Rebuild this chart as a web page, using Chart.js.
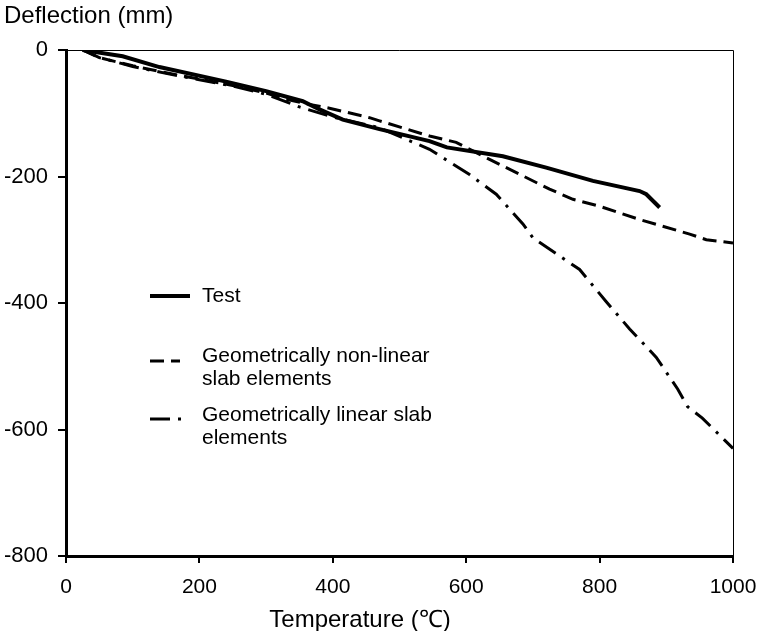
<!DOCTYPE html>
<html>
<head>
<meta charset="utf-8">
<script src="https://cdn.jsdelivr.net/npm/chart.js@4.4.0/dist/chart.umd.min.js"></script>
<style>
  html, body { margin: 0; padding: 0; background: #fff; }
  #wrap { width: 757px; height: 631px; }
</style>
</head>
<body>
<div id="wrap"><canvas id="chart" width="757" height="631"></canvas></div>
<script>
// Temperature (°C) / deflection (mm)
const testT = [25, 85, 140, 240, 300, 355, 380, 415, 470, 545, 571, 655, 720, 790, 860, 870, 890];
const testD = [0, -10, -27, -50, -65, -81, -94, -110, -125, -144, -154, -168, -186, -207, -223, -228, -249];

const nonlinT = [25, 50, 100, 150, 200, 250, 300, 330, 360, 395, 455, 470, 545, 585, 635, 685, 725, 760, 800, 860, 935, 960, 1000];
const nonlinD = [0, -12, -25, -36, -46, -56, -68, -78, -85, -92, -107, -112, -136, -146, -173, -199, -220, -236, -247, -268, -291, -300, -305];

const linT = [25, 50, 100, 150, 200, 250, 300, 350, 400, 470, 545, 605, 645, 685, 700, 770, 810, 845, 885, 917, 932, 954, 1000];
const linD = [0, -12, -26, -37, -47, -57, -70, -90, -106, -123, -157, -197, -228, -275, -297, -347, -398, -441, -486, -536, -564, -582, -630];

const seriesNames = ['Test', 'Geometrically non-linear slab elements', 'Geometrically linear slab elements'];
const legendLines = [['Test'], ['Geometrically non-linear', 'slab elements'], ['Geometrically linear slab', 'elements']];

const xTicks = [0, 200, 400, 600, 800, 1000];
const yTicks = [0, -200, -400, -600, -800];

const FONT = '"Liberation Sans", Arial, sans-serif';

function toPoints(xs, ys) {
  return xs.map((x, i) => ({ x: x, y: ys[i] }));
}

// titles, top/right frame and the in-plot legend
const extras = {
  id: 'extras',
  afterDraw(chart) {
    const ctx = chart.ctx;
    const a = chart.chartArea;
    ctx.save();

    ctx.strokeStyle = '#000';
    ctx.lineWidth = 1;
    ctx.beginPath();
    ctx.moveTo(a.left, a.top + 0.5);
    ctx.lineTo(a.right + 0.5, a.top + 0.5);
    ctx.lineTo(a.right + 0.5, a.bottom);
    ctx.stroke();

    ctx.fillStyle = '#000';
    ctx.font = '24px ' + FONT;
    ctx.textBaseline = 'alphabetic';
    ctx.textAlign = 'left';
    ctx.fillText('Deflection (mm)', 4, 23);
    ctx.textAlign = 'center';
    ctx.fillText('Temperature (\u2103)', 360, 627);

    // legend
    const rows = [296, 356, 415];
    const sampleOffset = [0, 5, 4];
    ctx.font = '21px ' + FONT;
    ctx.textAlign = 'left';
    ctx.textBaseline = 'middle';
    chart.data.datasets.forEach((ds, i) => {
      const y = rows[i] + sampleOffset[i];
      ctx.save();
      ctx.strokeStyle = ds.borderColor;
      ctx.lineWidth = ds.borderWidth;
      ctx.setLineDash(ds.borderDash || []);
      ctx.beginPath();
      ctx.moveTo(150, y);
      ctx.lineTo(i === 1 ? 180 : (i === 2 ? 182 : 190), y);
      ctx.stroke();
      ctx.restore();
      legendLines[i].forEach((t, k) => {
        ctx.fillText(t, 202, rows[i] + k * 23);
      });
    });
    ctx.restore();
  }
};

new Chart(document.getElementById('chart'), {
  type: 'line',
  data: {
    datasets: [
      {
        label: seriesNames[0],
        data: toPoints(testT, testD),
        borderColor: '#000',
        borderWidth: 4,
        pointRadius: 0,
        tension: 0
      },
      {
        label: seriesNames[1],
        data: toPoints(nonlinT, nonlinD),
        borderColor: '#000',
        borderWidth: 3,
        borderDash: [14, 7],
        pointRadius: 0,
        tension: 0
      },
      {
        label: seriesNames[2],
        data: toPoints(linT, linD),
        borderColor: '#000',
        borderWidth: 3,
        borderDash: [20, 8, 3, 8],
        pointRadius: 0,
        tension: 0
      }
    ]
  },
  options: {
    responsive: false,
    animation: false,
    layout: { padding: { top: 50, right: 24, left: 0, bottom: 0 } },
    plugins: {
      legend: { display: false },
      tooltip: { enabled: false }
    },
    scales: {
      x: {
        type: 'linear',
        min: xTicks[0],
        max: xTicks[xTicks.length - 1],
        afterBuildTicks: (s) => { s.ticks = xTicks.map(v => ({ value: v })); },
        afterFit: (s) => { s.height = 75; s.paddingLeft = 0; s.paddingRight = 0; },
        grid: { drawOnChartArea: false, tickLength: 7, color: '#000', lineWidth: 2 },
        border: { color: '#000', width: 3 },
        ticks: { color: '#000', padding: 12, maxRotation: 0, callback: (v) => String(v), font: { family: FONT, size: 21 } }
      },
      y: {
        type: 'linear',
        min: yTicks[yTicks.length - 1],
        max: yTicks[0],
        afterBuildTicks: (s) => { s.ticks = yTicks.map(v => ({ value: v })); },
        afterFit: (s) => { s.width = 66; },
        grid: { drawOnChartArea: false, tickLength: 8, color: '#000', lineWidth: 2 },
        border: { color: '#000', width: 3 },
        ticks: { color: '#000', padding: 10, callback: (v) => String(v), font: { family: FONT, size: 22 } }
      }
    }
  },
  plugins: [extras]
});
</script>
</body>
</html>
